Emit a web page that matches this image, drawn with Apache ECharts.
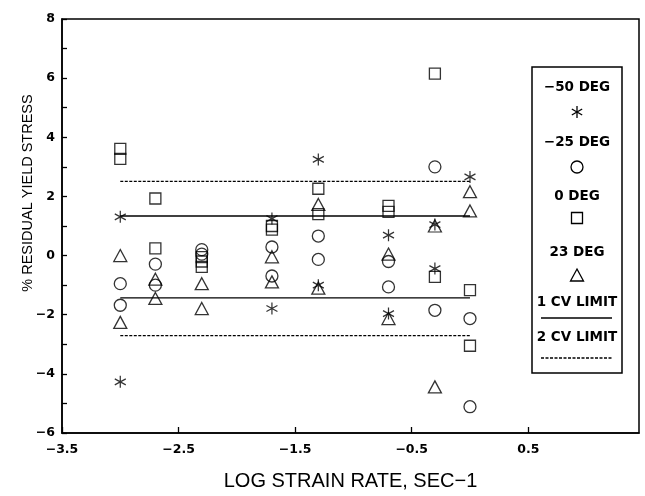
<!DOCTYPE html>
<html lang="en">
<head>
<meta charset="UTF-8">
<title>Residual yield stress vs strain rate</title>
<style>
  html, body { margin: 0; padding: 0; background: #fff; }
  #chart { width: 645px; height: 496px; }
</style>
<script src="https://cdn.jsdelivr.net/npm/echarts@6/dist/echarts.min.js"></script>
</head>
<body>
<div id="chart"></div>
<script>
  // log10 of strain rate (sec-1): 0.001 0.002 0.005 0.02 0.05 0.2 0.5 1
  const logRates = [-3, -2.699, -2.301, -1.699, -1.301, -0.699, -0.301, 0];

  // [rate index, % residual yield stress]
  const minus50Deg = [[0, 1.31], [0, -4.27], [3, 1.25], [3, -1.79], [4, 3.25], [4, -1.0],
                      [5, 0.69], [5, -1.96], [6, 1.05], [6, -0.44], [7, 2.66]];
  const minus25Deg = [[0, -0.95], [0, -1.68], [1, -0.29], [1, -1.0], [2, 0.2], [2, 0.05],
                      [3, 0.29], [3, -0.69], [4, 0.66], [4, -0.13], [5, -0.2], [5, -1.06],
                      [6, 3.0], [6, -1.85], [7, -2.13], [7, -5.11]];
  const zeroDeg = [[0, 3.61], [0, 3.27], [1, 1.93], [1, 0.24], [2, -0.05], [2, -0.2], [2, -0.38],
                   [3, 1.0], [3, 0.88], [4, 2.26], [4, 1.4], [5, 1.68], [5, 1.48],
                   [6, 6.15], [6, -0.72], [7, -1.17], [7, -3.05]];
  const plus23Deg = [[0, 0.0], [0, -2.26], [1, -0.8], [1, -1.45], [2, -0.95], [2, -1.79],
                     [3, -0.04], [3, -0.89], [4, 1.73], [4, -1.1], [5, 0.05], [5, -2.13],
                     [6, 1.0], [6, -4.44], [7, 2.16], [7, 1.51]];

  // CV limit bands, drawn across the tested rates
  const cvSpan = [-3, 0];
  const oneCvLimit = [1.34, -1.43];
  const twoCvLimit = [2.51, -2.71];

  const FONT = 'DejaVu Sans';
  const ASTERISK = 'path://M10,0L10,20M1.34,5L18.66,15M1.34,15L18.66,5';
  const minus = v => String(v).replace('-', '\u2212');

  function pts(arr) {
    return arr.map(p => [logRates[p[0]], p[1]]);
  }

  function scatter(name, data, symbol, size) {
    return {
      name: name, type: 'scatter', data: pts(data), symbol: symbol, symbolSize: size, z: 3,
      itemStyle: { color: 'transparent', borderColor: '#000', borderWidth: 1.3 }
    };
  }

  function limitLine(name, y, dashed) {
    return {
      name: name, type: 'line', data: cvSpan.map(x => [x, y]), symbol: 'none', z: 2,
      silent: true,
      lineStyle: { color: '#000', width: dashed ? 1.2 : 1.4, type: dashed ? [3, 1.5] : 'solid' }
    };
  }

  // legend box, label above symbol like the original
  const lx = 577;
  const legendFont = 'bold 13.5px ' + FONT;
  function label(text, y) {
    return { type: 'text', x: lx, y: y, style: { text: text, font: legendFont, fill: '#000', align: 'center', verticalAlign: 'middle' } };
  }
  function seg(x1, y1, x2, y2, dash) {
    return { type: 'line', shape: { x1: x1, y1: y1, x2: x2, y2: y2 },
             style: { stroke: '#000', lineWidth: 1.3, lineDash: dash || null } };
  }
  const legendItems = [
    { type: 'rect', shape: { x: 532, y: 67, width: 90, height: 306 },
      style: { fill: '#fff', stroke: '#000', lineWidth: 1.5 } },
    label('\u221250 DEG', 87),
    seg(lx, 106, lx, 118), seg(lx - 5.2, 109, lx + 5.2, 115), seg(lx - 5.2, 115, lx + 5.2, 109),
    label('\u221225 DEG', 142),
    { type: 'circle', shape: { cx: lx, cy: 167, r: 6 }, style: { fill: 'none', stroke: '#000', lineWidth: 1.3 } },
    label('0 DEG', 196),
    { type: 'rect', shape: { x: lx - 5.5, y: 212.5, width: 11, height: 11 }, style: { fill: 'none', stroke: '#000', lineWidth: 1.3 } },
    label('23 DEG', 252),
    { type: 'polygon', shape: { points: [[lx, 269], [lx + 6.5, 281], [lx - 6.5, 281]] }, style: { fill: 'none', stroke: '#000', lineWidth: 1.3 } },
    label('1 CV LIMIT', 302),
    seg(541, 318, 612, 318),
    label('2 CV LIMIT', 337),
    seg(541, 358, 612, 358, [3, 1.5])
  ];

  const chart = echarts.init(document.getElementById('chart'));
  chart.setOption({
    backgroundColor: '#fff',
    animation: false,
    grid: { left: 62, right: 6, top: 19, bottom: 62, show: true, borderColor: '#000', borderWidth: 1.5 },
    xAxis: {
      type: 'value', min: -3.5, max: 1.45, interval: 1,
      name: 'LOG STRAIN RATE, SEC\u22121', nameLocation: 'middle', nameGap: 38,
      nameTextStyle: { fontFamily: 'Liberation Sans', fontSize: 20, color: '#000' },
      axisLine: { onZero: false, lineStyle: { color: '#000', width: 1.5 } },
      axisTick: { inside: true, length: 6, lineStyle: { color: '#000', width: 1.3 } },
      axisLabel: { margin: 10, color: '#000', fontFamily: FONT, fontWeight: 'bold', fontSize: 12.5,
                   showMaxLabel: false, formatter: v => minus(v) },
      splitLine: { show: false }
    },
    yAxis: {
      type: 'value', min: -6, max: 8, interval: 1,
      name: '% RESIDUAL YIELD STRESS', nameLocation: 'middle', nameGap: 27, nameMoveOverlap: false,
      nameTextStyle: { fontFamily: 'Liberation Sans', fontSize: 14.5, color: '#000', padding: [0, 0, 0, 66] },
      axisLine: { onZero: false, lineStyle: { color: '#000', width: 1.5 } },
      axisTick: { inside: true, length: 5, lineStyle: { color: '#000', width: 1.3 } },
      axisLabel: { margin: 7, color: '#000', fontFamily: FONT, fontWeight: 'bold', fontSize: 12.5,
                   formatter: v => (v % 2 === 0 ? minus(v) : '') },
      splitLine: { show: false }
    },
    series: [
      limitLine('1 CV LIMIT', oneCvLimit[0], false),
      limitLine('1 CV LIMIT', oneCvLimit[1], false),
      limitLine('2 CV LIMIT', twoCvLimit[0], true),
      limitLine('2 CV LIMIT', twoCvLimit[1], true),
      scatter('-50 DEG', minus50Deg, ASTERISK, [11, 12]),
      scatter('-25 DEG', minus25Deg, 'circle', 12),
      scatter('0 DEG', zeroDeg, 'rect', 11),
      scatter('23 DEG', plus23Deg, 'triangle', [13, 12])
    ],
    graphic: legendItems
  });
</script>
</body>
</html>
